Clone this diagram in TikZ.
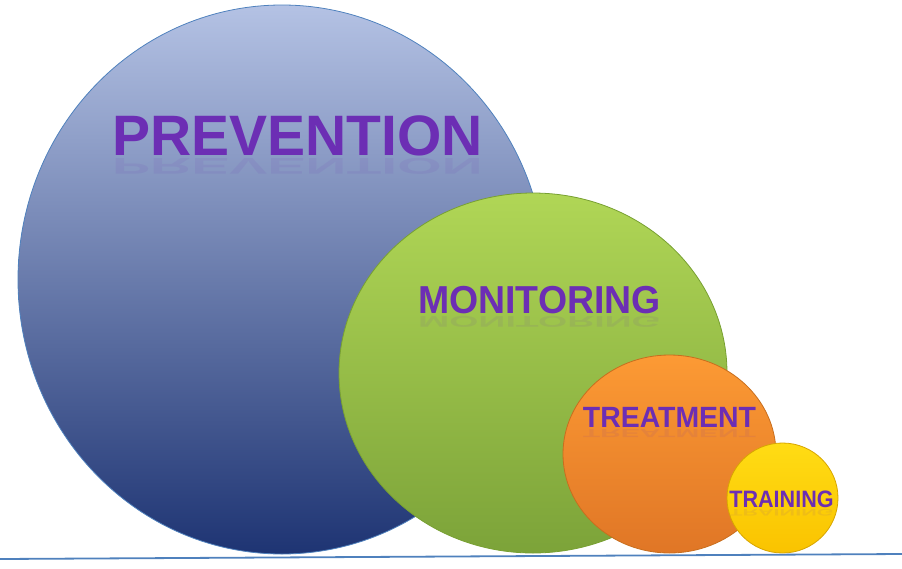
\documentclass[tikz,border=0pt]{standalone}
\usepackage{fontspec}
\setmainfont{Liberation Sans}
\usetikzlibrary{shapes.geometric}
\definecolor{linblue}{RGB}{79,129,189}
\definecolor{txtpurple}{RGB}{108,46,180}
\definecolor{txtdark}{RGB}{80,30,120}
\tikzset{
  bubble/.style={ellipse, inner sep=0pt, line width=0.8pt},
  lbl/.style={anchor=base, inner sep=0pt, text=txtpurple, font=\bfseries},
  refl/.style={anchor=base, inner sep=0pt, text=txtpurple, font=\bfseries, opacity=0.09, yscale=-0.4}
}
\begin{document}
\begin{tikzpicture}[x=1pt,y=-1pt]
\useasboundingbox (0,0) rectangle (902,568);
% ground line
\coordinate (gl) at (0,559);
\coordinate (gr) at (902,554);
% circles
\node[bubble, draw=linblue, top color={rgb,255:red,180;green,194;blue,228}, bottom color={rgb,255:red,30;green,52;blue,115}, minimum width=528pt, minimum height=549pt] (prev) at (282,279.5) {};
\node[lbl, font=\fontsize{57}{57}\bfseries] (tprev) at (297.5,155) {PREVENTION};
\node[refl, font=\fontsize{57}{57}\bfseries] (rprev) at (297.5,158) {PREVENTION};
\node[bubble, draw={rgb,255:red,120;green,160;blue,50}, top color={rgb,255:red,176;green,214;blue,86}, bottom color={rgb,255:red,124;green,163;blue,57}, minimum width=388pt, minimum height=360pt] (mon) at (533,373) {};
\node[lbl, font=\fontsize{39}{39}\bfseries, xscale=0.96] (tmon) at (539.5,313) {MONITORING};
\node[refl, font=\fontsize{39}{39}\bfseries, xscale=0.96] (rmon) at (539.5,316) {MONITORING};
\node[bubble, draw={rgb,255:red,200;green,110;blue,30}, top color={rgb,255:red,252;green,154;blue,52}, bottom color={rgb,255:red,224;green,118;blue,38}, minimum width=213pt, minimum height=198pt] (treat) at (669.5,454) {};
\node[lbl, font=\fontsize{29.3}{29.3}\bfseries, xscale=0.97] (ttreat) at (669.5,427) {TREATMENT};
\node[refl, font=\fontsize{29.3}{29.3}\bfseries, xscale=0.97] (rtreat) at (669.5,429.5) {TREATMENT};
\node[bubble, draw={rgb,255:red,215;green,165;blue,0}, top color={rgb,255:red,255;green,220;blue,20}, bottom color={rgb,255:red,250;green,195;blue,0}, minimum width=111pt, minimum height=110pt] (train) at (782.5,498) {};
\node[lbl, font=\fontsize{23.7}{23.7}\bfseries, xscale=0.91] (ttrain) at (781.5,507) {TRAINING};
\node[refl, font=\fontsize{23.7}{23.7}\bfseries, xscale=0.91] (rtrain) at (781.5,509) {TRAINING};
\draw[linblue, line width=1.8pt] (gl) -- (gr);
\end{tikzpicture}
\end{document}
